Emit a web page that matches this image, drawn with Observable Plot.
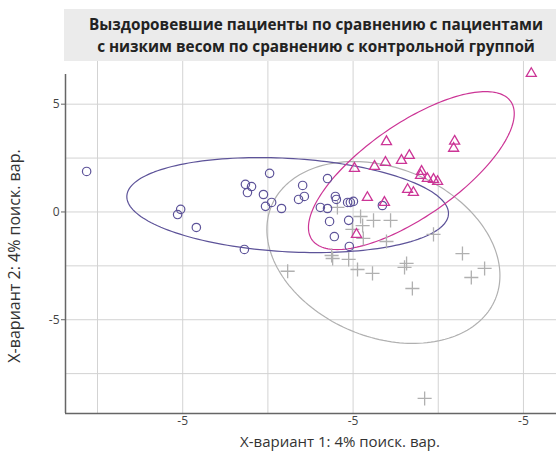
<!DOCTYPE html>
<html>
<head>
<meta charset="utf-8">
<script src="https://cdn.jsdelivr.net/npm/d3@7"></script>
<script src="https://cdn.jsdelivr.net/npm/@observablehq/plot@0.6"></script>
<style>
  body { margin: 0; background: #fff; font-family: "Open Sans", sans-serif; }
  #title {
    position: absolute; left: 64px; top: 9px; width: 492px; height: 52px;
    background: #ebebeb; color: #222; font-weight: bold; font-size: 15.3px;
    line-height: 22px; text-align: center; display: flex; flex-direction: column;
    justify-content: center; box-sizing: border-box; padding-left: 12px;
  }
  #chart { position: absolute; left: 0; top: 61px; }
</style>
</head>
<body>
<div id="title"><div>Выздоровевшие пациенты по сравнению с пациентами</div><div>с низким весом по сравнению с контрольной группой</div></div>
<div id="chart"></div>
<script>
const titleLines = ["Выздоровевшие пациенты по сравнению с пациентами", "с низким весом по сравнению с контрольной группой"];
const xLabel = "X-вариант 1: 4% поиск. вар.";
const yLabel = "X-вариант 2: 4% поиск. вар.";

const xTicks = [-5, 0, 5];
const xTickLabels = ["-5", "-5", "-5"];
const yTicks = [5, 0, -5];
const yTickLabels = ["5", "0", "-5"];
const xGrid = [-7.5, -5, -2.5, 0, 2.5, 5];
const yGrid = [5, 2.5, 0, -2.5, -5, -7.5];

// Group 1: circles (purple)
const circleX = [-7.82, -3.16, -2.98, -3.10, -2.45, -2.63, -2.57, -2.39, -2.10, -5.06, -5.15, -4.60, -3.19, -1.48, -1.60, -1.43, -0.75, -0.52, -0.49, -0.96, -0.75, -0.16, -0.08, 0.01, -0.69, -0.13, -0.55, -0.11, 0.86];
const circleY = [1.88, 1.28, 1.18, 0.90, 1.79, 0.81, 0.26, 0.44, 0.16, 0.12, -0.12, -0.72, -1.74, 1.23, 0.58, 0.72, 1.55, 0.72, 0.58, 0.21, 0.16, 0.44, 0.44, 0.49, -0.44, -0.39, -1.14, -1.60, 0.30];

// Group 2: triangles (magenta)
const triX = [5.23, 2.98, 2.95, 0.98, 0.04, 0.63, 0.95, 1.42, 1.65, 2.01, 1.98, 2.18, 2.36, 2.48, 1.60, 1.77, 0.42, 0.92, 0.10];
const triY = [6.42, 3.28, 2.95, 3.26, 2.02, 2.11, 2.30, 2.39, 2.62, 1.88, 1.69, 1.55, 1.51, 1.41, 1.04, 0.90, 0.67, 0.44, -1.04];

// Group 3: crosses (gray)
const plusX = [-0.46, 0.22, 0.28, 0.60, 1.10, -0.02, 0.30, 0.98, 2.36, -0.63, -0.60, -0.13, 0.13, 0.57, 1.57, 1.51, 1.74, 3.21, 3.86, 3.47, 2.10, -1.92];
const plusY = [0.21, -0.21, -0.63, -0.39, -0.39, -0.81, -1.23, -1.37, -1.04, -2.02, -2.16, -2.20, -2.67, -2.85, -2.39, -2.57, -3.55, -1.93, -2.62, -3.04, -8.65, -2.75];

// Ellipses: centre and conjugate semi-axis vectors (data units)
const ellGroup = ["circle", "gray", "tri"];
const ellCx = [-1.92, 0.89, 1.71];
const ellCy = [0.32, -1.88, 1.92];
const ellAx = [4.72, 3.42, 3.02];
const ellAy = [-0.39, -1.07, 2.64];
const ellBy = [2.17, 4.08, 2.54];

const colors = { circle: "#5d5399", tri: "#cc3596", gray: "#b0b0b0" };

const circles = circleX.map((x, i) => ({ x, y: circleY[i] }));
const tris = triX.map((x, i) => ({ x, y: triY[i] }));
const pluses = plusX.map((x, i) => ({ x, y: plusY[i] }));

const ellPts = [];
ellGroup.forEach((g, k) => {
  for (let j = 0; j <= 180; j++) {
    const t = (j / 180) * 2 * Math.PI;
    ellPts.push({ g, x: ellCx[k] + ellAx[k] * Math.cos(t), y: ellCy[k] + ellAy[k] * Math.cos(t) + ellBy[k] * Math.sin(t) });
  }
});

const xDom = [-8.44, 5.97];
const yDom = [-9.35, 6.98];

const chart = Plot.plot({
  width: 556, height: 390,
  marginTop: 0, marginLeft: 65, marginRight: 0, marginBottom: 38,
  x: { domain: xDom, axis: null },
  y: { domain: yDom, axis: null },
  style: { fontFamily: "Open Sans, sans-serif", background: "transparent" },
  marks: [
    Plot.ruleX(xGrid, { stroke: "#d3d3d3", strokeWidth: 1 }),
    Plot.ruleY(yGrid, { stroke: "#d3d3d3", strokeWidth: 1 }),
    Plot.line(ellPts.filter(d => d.g === "gray"), { x: "x", y: "y", stroke: colors.gray, strokeWidth: 1.2 }),
    Plot.line(ellPts.filter(d => d.g === "circle"), { x: "x", y: "y", stroke: colors.circle, strokeWidth: 1.2 }),
    Plot.line(ellPts.filter(d => d.g === "tri"), { x: "x", y: "y", stroke: colors.tri, strokeWidth: 1.2 }),
    Plot.dot(pluses, { x: "x", y: "y", symbol: "plus", r: 4.6, stroke: colors.gray, strokeWidth: 1.3, fill: "none" }),
    Plot.dot(circles, { x: "x", y: "y", symbol: "circle", r: 4.2, stroke: colors.circle, strokeWidth: 1.2, fill: "none" }),
    Plot.dot(tris, { x: "x", y: "y", symbol: "triangle2", r: 4.8, stroke: colors.tri, strokeWidth: 1.3, fill: "none" }),
    Plot.axisX(xTicks, { tickFormat: d => xTickLabels[xTicks.indexOf(d)], tickSize: 0, tickPadding: 3, fontSize: 12, color: "#444", label: null }),
    Plot.axisY(yTicks, { tickFormat: d => yTickLabels[yTicks.indexOf(d)], tickSize: 4, tickPadding: 2, fontSize: 12, color: "#444", stroke: "#666", label: null }),
    Plot.ruleX([xDom[0]], { y1: yDom[0], y2: 6.38, stroke: "#666", strokeWidth: 1.5 }),
    Plot.ruleY([yDom[0]], { stroke: "#666", strokeWidth: 1.5 })
  ]
});

const svg = d3.select(chart);
svg.append("text").attr("x", 340).attr("y", 386).attr("text-anchor", "middle")
  .attr("font-size", 15).attr("fill", "#333").attr("font-family", "Open Sans, sans-serif").text(xLabel);
svg.append("text").attr("transform", "translate(20,195) rotate(-90)").attr("text-anchor", "middle")
  .attr("font-size", 16).attr("fill", "#333").attr("font-family", "Open Sans, sans-serif").text(yLabel);

document.getElementById("chart").appendChild(chart);
</script>
</body>
</html>
